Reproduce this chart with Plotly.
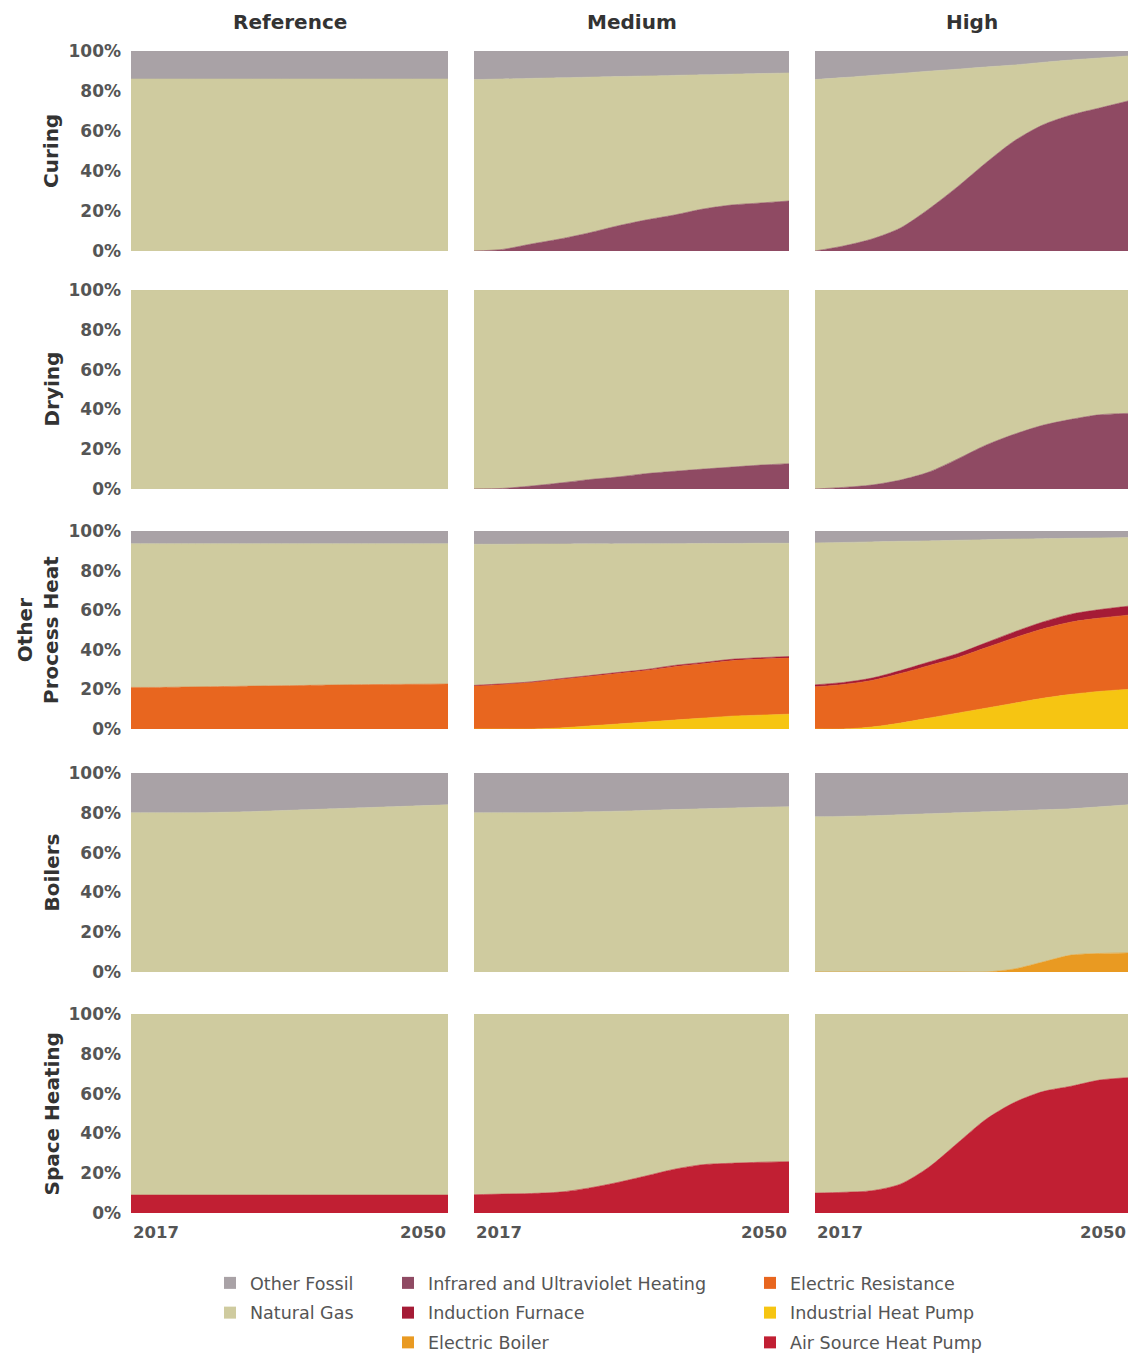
import plotly.graph_objects as go
from plotly.subplots import make_subplots

YEARS = [2017, 2020, 2023, 2026, 2029, 2032, 2035, 2038, 2041, 2044, 2047, 2050]

SCENARIOS = ["Reference", "Medium", "High"]
END_USES = ["Curing", "Drying", "Other<br>Process Heat", "Boilers", "Space Heating"]
Y_TICKS = [0, 20, 40, 60, 80, 100]
Y_TICK_LABELS = ["0%", "20%", "40%", "60%", "80%", "100%"]
X_LABELS = ["2017", "2050"]

# ---------------- Curing ----------------
curing_ref_natural_gas = [86, 86, 86, 86, 86, 86, 86, 86, 86, 86, 86, 86]
curing_ref_other_fossil = [14, 14, 14, 14, 14, 14, 14, 14, 14, 14, 14, 14]

curing_med_infrared = [0, 0.8, 3.5, 6, 9, 12.5, 15.5, 18, 21, 23, 24, 25]
curing_med_natural_gas = [85.7, 85.2, 82.8, 80.6, 77.9, 74.7, 72.0, 69.8, 67.1, 65.4, 64.7, 64.0]
curing_med_other_fossil = [14.3, 14, 13.7, 13.4, 13.1, 12.8, 12.5, 12.2, 11.9, 11.6, 11.3, 11.0]

curing_high_infrared = [0, 2.5, 6, 11.5, 21, 32, 44, 55, 63, 68, 71.5, 75]
curing_high_natural_gas = [85.7, 84.2, 81.8, 77.3, 68.9, 58.9, 48.0, 38.0, 31.3, 27.5, 25.0, 22.5]
curing_high_other_fossil = [14.3, 13.3, 12.2, 11.2, 10.1, 9.1, 8.0, 7.0, 5.7, 4.5, 3.5, 2.5]

# ---------------- Drying ----------------
drying_ref_natural_gas = [100, 100, 100, 100, 100, 100, 100, 100, 100, 100, 100, 100]

drying_med_infrared = [0, 0.3, 1.5, 3, 4.7, 6, 7.7, 8.9, 10, 11, 12, 12.7]
drying_med_natural_gas = [100, 99.7, 98.5, 97, 95.3, 94, 92.3, 91.1, 90, 89, 88, 87.3]

drying_high_infrared = [0, 0.8, 2, 4.5, 8.5, 15, 22, 27.5, 32, 35, 37.3, 38]
drying_high_natural_gas = [100, 99.2, 98, 95.5, 91.5, 85, 78, 72.5, 68, 65, 62.7, 62]

# ---------------- Other Process Heat ----------------
oph_ref_electric_resistance = [21, 21, 21.2, 21.4, 21.6, 21.8, 22, 22.2, 22.4, 22.5, 22.6, 22.7]
oph_ref_natural_gas = [72.6, 72.6, 72.4, 72.2, 72.0, 71.8, 71.6, 71.4, 71.2, 71.1, 71.0, 70.9]
oph_ref_other_fossil = [6.4, 6.4, 6.4, 6.4, 6.4, 6.4, 6.4, 6.4, 6.4, 6.4, 6.4, 6.4]

oph_med_heat_pump = [0, 0, 0, 0.5, 1.5, 2.5, 3.5, 4.5, 5.5, 6.5, 7, 7.5]
oph_med_electric_resistance = [21.7, 22.5, 23.5, 24.5, 25.0, 25.5, 26.0, 27.0, 27.5, 28.0, 28.3, 28.3]
oph_med_induction = [0.3, 0.3, 0.3, 0.4, 0.4, 0.5, 0.5, 0.6, 0.6, 0.7, 0.7, 0.8]
oph_med_natural_gas = [71.3, 70.5, 69.6, 68.0, 66.6, 65.0, 63.6, 61.5, 60.1, 58.5, 57.8, 57.2]
oph_med_other_fossil = [6.7, 6.7, 6.6, 6.6, 6.5, 6.5, 6.4, 6.4, 6.3, 6.3, 6.2, 6.2]

oph_high_heat_pump = [0, 0, 1, 3, 5.5, 8, 10.5, 13, 15.5, 17.5, 19, 20]
oph_high_electric_resistance = [21.3, 22.5, 23.5, 25, 26.5, 28, 30.5, 33, 35, 36.5, 37, 37.5]
oph_high_induction = [1, 1, 1.2, 1.5, 1.8, 2, 2.5, 3, 3.5, 4, 4.3, 4.5]
oph_high_natural_gas = [71.7, 70.7, 68.8, 65.3, 61.2, 57.3, 52.1, 46.9, 42.1, 38.3, 36.2, 34.7]
oph_high_other_fossil = [6, 5.8, 5.5, 5.2, 5, 4.7, 4.4, 4.1, 3.9, 3.7, 3.5, 3.3]

# ---------------- Boilers ----------------
boilers_ref_natural_gas = [80, 80, 80, 80.2, 80.5, 81, 81.5, 82, 82.5, 83, 83.5, 84]
boilers_ref_other_fossil = [20, 20, 20, 19.8, 19.5, 19, 18.5, 18, 17.5, 17, 16.5, 16]

boilers_med_natural_gas = [80, 80, 80, 80.2, 80.5, 80.8, 81.2, 81.6, 82, 82.4, 82.8, 83]
boilers_med_other_fossil = [20, 20, 20, 19.8, 19.5, 19.2, 18.8, 18.4, 18, 17.6, 17.2, 17]

boilers_high_electric_boiler = [0, 0, 0, 0, 0, 0, 0, 1.5, 5, 8.5, 9.3, 9.6]
boilers_high_natural_gas = [78, 78.2, 78.5, 79, 79.5, 80, 80.5, 79.5, 76.5, 73.5, 73.7, 74.4]
boilers_high_other_fossil = [22, 21.8, 21.5, 21, 20.5, 20, 19.5, 19, 18.5, 18, 17, 16]

# ---------------- Space Heating ----------------
space_ref_heat_pump = [9, 9, 9, 9, 9, 9, 9, 9, 9, 9, 9, 9]
space_ref_natural_gas = [91, 91, 91, 91, 91, 91, 91, 91, 91, 91, 91, 91]

space_med_heat_pump = [9.2, 9.5, 9.8, 10.5, 12.5, 15.3, 18.6, 22, 24.3, 25, 25.5, 25.8]
space_med_natural_gas = [90.8, 90.5, 90.2, 89.5, 87.5, 84.7, 81.4, 78, 75.7, 75, 74.5, 74.2]

space_high_heat_pump = [10, 10.4, 11.2, 14.5, 23, 35, 47, 55.5, 61, 63.7, 66.8, 68]
space_high_natural_gas = [90, 89.6, 88.8, 85.5, 77, 65, 53, 44.5, 39, 36.3, 33.2, 32]

OF, NG = "Other Fossil", "Natural Gas"
IR, IF, EB = "Infrared and Ultraviolet Heating", "Induction Furnace", "Electric Boiler"
ER, IHP, ASHP = "Electric Resistance", "Industrial Heat Pump", "Air Source Heat Pump"

COLORS = {
    OF: "#a9a2a6",
    NG: "#cfcb9f",
    IR: "#8f4a63",
    IF: "#a51b36",
    EB: "#e99a22",
    ER: "#e8661f",
    IHP: "#f6c512",
    ASHP: "#c11f33",
}

# panel -> list of (series, values), bottom of stack first
PANELS = {
    (1, 1): [(NG, curing_ref_natural_gas), (OF, curing_ref_other_fossil)],
    (1, 2): [(IR, curing_med_infrared), (NG, curing_med_natural_gas), (OF, curing_med_other_fossil)],
    (1, 3): [(IR, curing_high_infrared), (NG, curing_high_natural_gas), (OF, curing_high_other_fossil)],
    (2, 1): [(NG, drying_ref_natural_gas)],
    (2, 2): [(IR, drying_med_infrared), (NG, drying_med_natural_gas)],
    (2, 3): [(IR, drying_high_infrared), (NG, drying_high_natural_gas)],
    (3, 1): [(ER, oph_ref_electric_resistance), (NG, oph_ref_natural_gas), (OF, oph_ref_other_fossil)],
    (3, 2): [(IHP, oph_med_heat_pump), (ER, oph_med_electric_resistance), (IF, oph_med_induction),
             (NG, oph_med_natural_gas), (OF, oph_med_other_fossil)],
    (3, 3): [(IHP, oph_high_heat_pump), (ER, oph_high_electric_resistance), (IF, oph_high_induction),
             (NG, oph_high_natural_gas), (OF, oph_high_other_fossil)],
    (4, 1): [(NG, boilers_ref_natural_gas), (OF, boilers_ref_other_fossil)],
    (4, 2): [(NG, boilers_med_natural_gas), (OF, boilers_med_other_fossil)],
    (4, 3): [(EB, boilers_high_electric_boiler), (NG, boilers_high_natural_gas), (OF, boilers_high_other_fossil)],
    (5, 1): [(ASHP, space_ref_heat_pump), (NG, space_ref_natural_gas)],
    (5, 2): [(ASHP, space_med_heat_pump), (NG, space_med_natural_gas)],
    (5, 3): [(ASHP, space_high_heat_pump), (NG, space_high_natural_gas)],
}

LEGEND_COLUMNS = [[OF, NG], [IR, IF, EB], [ER, IHP, ASHP]]

# page body has an 8px default margin; layout positions are given in screen px
OFF = 8
W, H = 1136 - 2 * OFF, 1362 - 2 * OFF
COL_PX = [(131, 448), (474, 789), (815, 1128)]
ROW_PX = [(51, 251), (290, 489), (531, 729), (773, 972), (1014, 1213)]


def px_x(x):
    return (x - OFF) / W


def px_y(y):
    return 1 - (y - OFF) / H


fig = make_subplots(rows=5, cols=3)

for (r, c), series in PANELS.items():
    for name, vals in series:
        fig.add_trace(
            go.Scatter(
                x=YEARS, y=vals, name=name, stackgroup=f"s{r}{c}", mode="lines",
                line=dict(width=0.6, color=COLORS[name], shape="spline", smoothing=0.8),
                fillcolor=COLORS[name], showlegend=False, hoverinfo="skip",
            ),
            row=r, col=c,
        )

TEXT = "#555555"
DARK = "#333333"
FONT = "DejaVu Sans"

for r in range(1, 6):
    for c in range(1, 4):
        x0, x1 = COL_PX[c - 1]
        y0, y1 = ROW_PX[r - 1]
        fig.update_xaxes(
            row=r, col=c, range=[YEARS[0], YEARS[-1]], domain=[px_x(x0), px_x(x1)],
            showticklabels=False, showgrid=False, zeroline=False, showline=False, ticks="",
        )
        fig.update_yaxes(
            row=r, col=c, range=[0, 100], domain=[px_y(y1), px_y(y0)],
            tickvals=Y_TICKS, ticktext=Y_TICK_LABELS, showticklabels=(c == 1),
            showgrid=False, zeroline=False, showline=False, ticks="",
            ticklabelstandoff=9,
            tickfont=dict(family=FONT, size=17, color=TEXT, weight="bold"),
        )

annotations = []
for c, title in enumerate(SCENARIOS):
    x0, x1 = COL_PX[c]
    annotations.append(dict(
        text=title, x=px_x((x0 + x1) / 2), y=px_y(22), xref="paper", yref="paper",
        xanchor="center", yanchor="middle", showarrow=False,
        font=dict(family=FONT, size=20, color=DARK, weight="bold"),
    ))
for r, label in enumerate(END_USES):
    y0, y1 = ROW_PX[r]
    annotations.append(dict(
        text=label, x=px_x(65), y=px_y((y0 + y1) / 2), xref="paper", yref="paper",
        xanchor="right", yanchor="middle", showarrow=False, textangle=-90, align="center",
        font=dict(family=FONT, size=20, color=DARK, weight="bold"),
    ))
for c in range(3):
    ax = "x" + ("" if c == 0 else str(13 + c))
    annotations.append(dict(
        text=X_LABELS[0], x=YEARS[0], xref=ax, y=px_y(1232), yref="paper",
        xanchor="left", yanchor="middle", showarrow=False,
        font=dict(family=FONT, size=16.5, color=TEXT, weight="bold"),
    ))
    annotations.append(dict(
        text=X_LABELS[1], x=YEARS[-1], xref=ax, y=px_y(1232), yref="paper",
        xanchor="right", yanchor="middle", showarrow=False,
        font=dict(family=FONT, size=16.5, color=TEXT, weight="bold"),
    ))

legend_ids = ["legend", "legend2", "legend3"]
legend_text_px = [250, 428, 790]
for lid, names in zip(legend_ids, LEGEND_COLUMNS):
    for name in names:
        fig.add_trace(go.Scatter(
            x=[None], y=[None], mode="markers", name=name, legend=lid, legendgroup=name,
            marker=dict(symbol="square", size=12, color=COLORS[name]), showlegend=True,
        ))

legend_style = dict(
    xanchor="left", yanchor="top", y=px_y(1265), orientation="v",
    bgcolor="rgba(0,0,0,0)", borderwidth=0, itemwidth=30, tracegroupgap=4,
    font=dict(family=FONT, size=17.5, color=TEXT),
)
layout_legends = {}
for lid, xp in zip(legend_ids, legend_text_px):
    layout_legends[lid] = dict(legend_style, x=px_x(xp - 40))

fig.update_layout(
    width=W, height=H, margin=dict(l=0, r=0, t=0, b=0, autoexpand=False),
    plot_bgcolor="white", paper_bgcolor="white",
    showlegend=True, annotations=annotations,
    **layout_legends,
)

fig.write_html("out.html")
